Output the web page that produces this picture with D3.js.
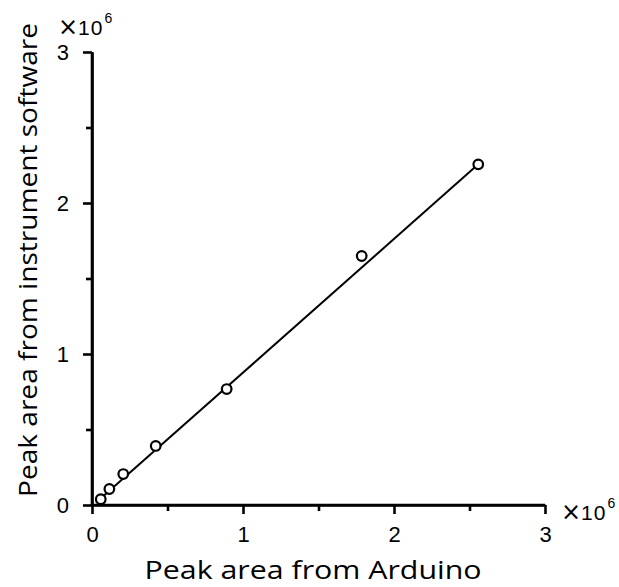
<!DOCTYPE html>
<html>
<head>
<meta charset="utf-8">
<script src="https://cdn.jsdelivr.net/npm/d3@7"></script>
<style>
    body { margin: 0; background: #fff; }
    svg text { fill: #000; }
    .num { font-family: "Liberation Sans", Arial, sans-serif; }
    .title { font-family: "Open Sans", sans-serif; }
</style>
</head>
<body>
<div id="chart"></div>
<script>
// peak areas, in units of 10^6
var arduinoArea = [0.058, 0.115, 0.207, 0.422, 0.892, 1.786, 2.558],
    instrumentArea = [0.038, 0.106, 0.205, 0.391, 0.768, 1.649, 2.256],
    fitSlope = 0.885,
    fitIntercept = -0.008,
    fitRange = [0.04, 2.558],
    majorTicks = [0, 1, 2, 3],
    minorTicks = [0.5, 1.5, 2.5];

var width = 619,
    height = 587,
    x0 = 92, x1 = 545,
    y0 = 505, y1 = 52;

var svg = d3.select("#chart").append("svg")
    .attr("width", width)
    .attr("height", height);

var x = d3.scaleLinear().domain([0, 3]).range([x0, x1]),
    y = d3.scaleLinear().domain([0, 3]).range([y0, y1]);

function styleAxis(g) {
    g.selectAll("path, line").attr("stroke", "#000").attr("stroke-width", 2.6);
    g.selectAll("text").attr("class", "num").style("font-size", "22px");
}

// minor ticks first, major on top
svg.append("g").attr("transform", "translate(0," + y0 + ")")
    .call(d3.axisBottom(x).tickValues(minorTicks).tickSize(6).tickFormat("").tickSizeOuter(0))
    .call(styleAxis);
svg.append("g").attr("transform", "translate(" + x0 + ",0)")
    .call(d3.axisLeft(y).tickValues(minorTicks).tickSize(6).tickFormat("").tickSizeOuter(0))
    .call(styleAxis);

var xAxis = svg.append("g").attr("transform", "translate(0," + y0 + ")")
    .call(d3.axisBottom(x).tickValues(majorTicks).tickSize(9).tickPadding(12).tickFormat(d3.format("d")).tickSizeOuter(0))
    .call(styleAxis);
var yAxis = svg.append("g").attr("transform", "translate(" + x0 + ",0)")
    .call(d3.axisLeft(y).tickValues(majorTicks).tickSize(9).tickPadding(14).tickFormat(d3.format("d")).tickSizeOuter(0))
    .call(styleAxis);
xAxis.select(".domain").attr("d", "M" + x0 + ",0H" + x1);
yAxis.select(".domain").attr("d", "M0," + y0 + "V" + y1);
yAxis.selectAll(".tick text").attr("dy", "0.33em");

// fit line
svg.append("line")
    .attr("x1", x(fitRange[0])).attr("y1", y(fitSlope * fitRange[0] + fitIntercept))
    .attr("x2", x(fitRange[1])).attr("y2", y(fitSlope * fitRange[1] + fitIntercept))
    .attr("stroke", "#000").attr("stroke-width", 2);

svg.selectAll("circle.pt")
    .data(arduinoArea)
    .enter().append("circle")
    .attr("class", "pt")
    .attr("cx", function (d) { return x(d); })
    .attr("cy", function (d, i) { return y(instrumentArea[i]); })
    .attr("r", 4.8)
    .attr("fill", "#fff")
    .attr("stroke", "#000")
    .attr("stroke-width", 2.2);

// exponent labels
function exponent(px, py) {
    var t = svg.append("text").attr("class", "num")
        .attr("x", px).attr("y", py).style("font-size", "21px");
    t.append("tspan").text("×").style("font-family", "DejaVu Sans").style("font-size", "24px");
    t.append("tspan").text("10").style("letter-spacing", "1px");
    t.append("tspan").attr("dy", -12).attr("dx", 1).style("font-size", "14px").text("6");
}
exponent(58, 35);
exponent(561, 520);

svg.append("text").attr("class", "title")
    .attr("x", 313).attr("y", 579)
    .attr("text-anchor", "middle")
    .attr("textLength", 337).attr("lengthAdjust", "spacingAndGlyphs")
    .style("font-size", "26px")
    .text("Peak area from Arduino");

svg.append("text").attr("class", "title")
    .attr("transform", "translate(37,260) rotate(-90)")
    .attr("text-anchor", "middle")
    .attr("textLength", 474).attr("lengthAdjust", "spacingAndGlyphs")
    .style("font-size", "26px")
    .text("Peak area from instrument software");
</script>
</body>
</html>
